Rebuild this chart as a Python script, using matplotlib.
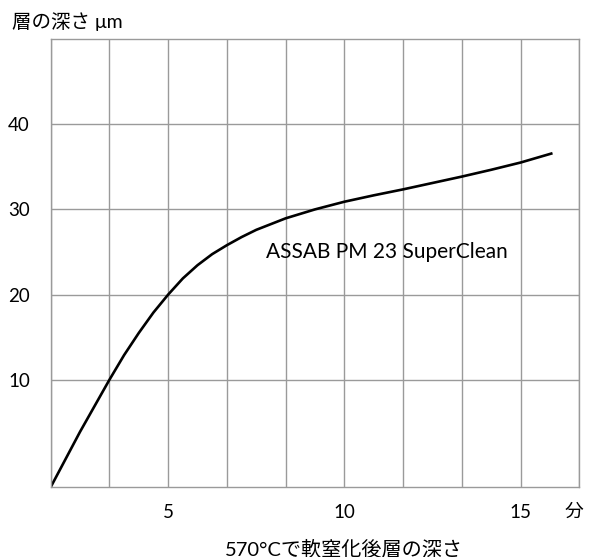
import matplotlib.pyplot as plt
import numpy as np

# data --------------------------------------------------------
minutes = [1.667, 2.5, 3.333, 3.75, 4.167, 4.583, 5.0, 5.417, 5.833, 6.25, 6.667, 7.083, 7.5,
           8.333, 9.167, 10.0, 10.833, 11.667, 12.5, 13.333, 14.167, 15.0, 15.87]
depth = [-2.6, 3.9, 10.0, 12.9, 15.5, 17.9, 20.0, 21.9, 23.45, 24.75, 25.8, 26.75, 27.6,
         28.95, 30.0, 30.9, 31.65, 32.35, 33.1, 33.85, 34.65, 35.5, 36.55]

y_ticks = [10, 20, 30, 40]
x_labels = {5: '5', 10: '10', 15: '15'}
x_grid = [5 / 3 * k for k in range(1, 11)]

fonts = ['Lato', 'Noto Sans CJK JP', 'DejaVu Sans']
plt.rcParams['font.family'] = fonts
grid_col = '#9a9a9a'

fig = plt.figure(figsize=(5.9, 5.57), dpi=100)
ax = fig.add_axes([0.0859, 0.1248, 0.8960, 0.8052])

ax.plot(minutes, depth, color='black', linewidth=1.9, solid_joinstyle='round')

ax.set_xlim(5 / 3, 50 / 3)
ax.set_ylim(-2.64, 50)

ax.set_xticks(x_grid)
ax.set_xticklabels([x_labels.get(int(round(v)), '') if abs(v - round(v)) < 1e-6 else '' for v in x_grid])
ax.set_yticks(y_ticks)
ax.set_yticklabels([str(v) for v in y_ticks])
ax.tick_params(length=0, labelsize=13.5, colors='black')
ax.tick_params(axis='x', pad=12)
ax.tick_params(axis='y', pad=15)

ax.grid(True, color=grid_col, linewidth=1.0)
for s in ax.spines.values():
    s.set_color(grid_col)
    s.set_linewidth(1.0)

ax.text(7.77, 25.0, 'ASSAB PM 23 SuperClean', fontsize=15, va='center', ha='left')
ax.text(0.9897, -0.053, '分', transform=ax.transAxes, fontsize=13.5, ha='center', va='center')
fig.text(344 / 590, 1 - 549 / 557, '570°Cで軟窒化後層の深さ', fontsize=14.5, ha='center', va='center')
fig.text(12 / 590, 1 - 22 / 557, '層の深さ μm', fontsize=14, ha='left', va='center')

plt.savefig('out.png', dpi=100)
